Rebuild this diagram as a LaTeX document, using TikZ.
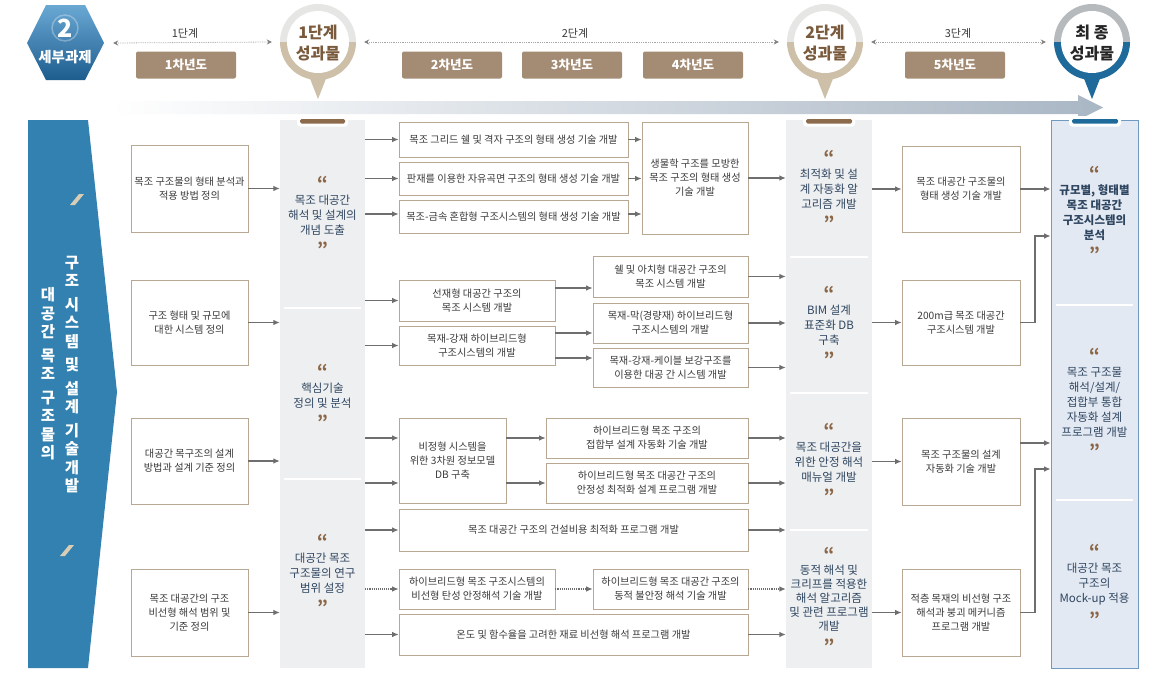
\documentclass[tikz,border=0pt]{standalone}
\usepackage{fontspec}
\setmainfont{Noto Sans CJK KR}
\usetikzlibrary{arrows.meta,calc}
\definecolor{bannerblue}{HTML}{3281B0}
\definecolor{hextop}{HTML}{6AA8D4}
\definecolor{hexbot}{HTML}{1D5D8E}
\definecolor{colgray}{HTML}{EEEFF0}
\definecolor{finfill}{HTML}{E3E9F2}
\definecolor{finborder}{HTML}{6F9AC2}
\definecolor{boxbrd}{HTML}{B8A792}
\definecolor{yearbrown}{HTML}{A48C74}
\definecolor{qbrown}{HTML}{8A6646}
\definecolor{navy}{HTML}{2E4560}
\definecolor{arrgray}{HTML}{6E6E6E}
\definecolor{txtgray}{HTML}{3A3A3A}
\definecolor{ringgray}{HTML}{E6E6E4}
\definecolor{ringtan}{HTML}{CDBFA8}
\definecolor{ringdark}{HTML}{B7BABD}
\definecolor{finblue}{HTML}{1E6A9A}
\definecolor{bandend}{HTML}{A9B6C4}
\definecolor{brownbar}{HTML}{8C6A4C}
\definecolor{circtext}{HTML}{7A5A3C}
\definecolor{slashtan}{HTML}{D9CDB5}
\newcommand{\myoq}{{\color{qbrown}\fontsize{17}{12}\selectfont\bfseries “}}
\newcommand{\mycq}{{\color{qbrown}\fontsize{17}{12}\selectfont\bfseries ”}}
\tikzset{
 wbox/.style={draw=boxbrd, fill=white, line width=0.7pt, align=center, inner sep=0pt, text=txtgray, font=\fontsize{10.2}{14}\selectfont},
 ctext/.style={align=center, text=navy, font=\fontsize{11.5}{15}\selectfont},
 arr/.style={draw=arrgray, line width=1.1pt, -{Latex[length=6.5pt,width=5.5pt]}},
 darr/.style={arr, densely dotted},
 panel/.style={fill=colgray, inner sep=0pt},
 sepline/.style={draw=white, line width=2.2pt},
 year/.style={fill=yearbrown, rounded corners=2pt, text=white, minimum width=100, minimum height=27, inner sep=0pt, font=\fontsize{12.5}{14}\selectfont\bfseries},
 hdr/.style={draw=gray!70, densely dotted, line width=0.8pt, {Stealth[length=5pt,width=5pt,gray]}-{Stealth[length=5pt,width=5pt,gray]}},
 lbl/.style={text=txtgray, font=\fontsize{11}{12}\selectfont},
 vtext/.style={align=center, text=white, inner sep=0pt, font=\fontsize{15.5}{18.5}\selectfont\bfseries},
 ring/.style={minimum size=76, inner sep=0pt},
 ctitle/.style={align=center, font=\fontsize{16}{21}\selectfont\bfseries},
}
\begin{document}
\begin{tikzpicture}[x=1pt,y=-1pt]
\useasboundingbox (0,0) rectangle (1156,672);
\fill[white] (0,0) rectangle (1156,672);

% ===== header band =====
\shade[left color=white, right color=bandend] (110,101) -- (1078,101) -- (1078,95) -- (1103,107.5) -- (1078,120) -- (1078,114) -- (110,114) -- cycle;

% hexagon
\shade[top color=hextop, bottom color=hexbot] (27,43) -- (46,5) -- (85,5) -- (104,43) -- (85,80) -- (46,80) -- cycle;
\node[minimum width=60, minimum height=60, inner sep=0pt] (hex) at (65,43) {};
\draw[white, opacity=0.3, line width=1.5pt] (65,28) circle (13);
\node[text=white, font=\fontsize{25}{25}\selectfont\bfseries] (hexnum) at (65,28) {2};
\node[text=white, font=\fontsize{14.5}{16}\selectfont\bfseries] (hexlbl) at (65,57) {세부과제};

% circle 1
\fill[ringgray] (280,42) arc[start angle=180,end angle=360,radius=38] -- cycle;
\fill[ringtan] (356,42) arc[start angle=0,end angle=180,radius=38] -- cycle;
\fill[ringtan] (309,76) -- (327,76) -- (318,99) -- cycle;
\fill[white] (318,42) circle (31);
\node[ring] (m1) at (318,42) {};
\node[ctitle, text=circtext] (m1t) at (318,43) {1단계\\성과물};

% circle 2
\fill[ringgray] (787,42) arc[start angle=180,end angle=360,radius=38] -- cycle;
\fill[ringtan] (863,42) arc[start angle=0,end angle=180,radius=38] -- cycle;
\fill[ringtan] (816,76) -- (834,76) -- (825,99) -- cycle;
\fill[white] (825,42) circle (31);
\node[ring] (m2) at (825,42) {};
\node[ctitle, text=circtext] (m2t) at (825,43) {2단계\\성과물};

% circle 3
\fill[ringdark] (1054,42) arc[start angle=180,end angle=360,radius=38] -- cycle;
\fill[finblue] (1130,42) arc[start angle=0,end angle=180,radius=38] -- cycle;
\fill[finblue] (1083,76) -- (1101,76) -- (1092,99) -- cycle;
\fill[white] (1092,42) circle (31);
\node[ring] (m3) at (1092,42) {};
\node[ctitle, text=black!85] (m3t) at (1092,43) {최 종\\성과물};

% stage dotted lines
\draw[hdr] ([xshift=18pt]hex.east) -- ([xshift=-8pt]m1.west);
\draw[hdr] ([xshift=8pt]m1.east) -- ([xshift=-8pt]m2.west);
\draw[hdr] ([xshift=8pt]m2.east) -- ([xshift=-8pt]m3.west);
\node[lbl] (s1) at (185,33) {1단계};
\node[lbl] (s2) at (575,33) {2단계};
\node[lbl] (s3) at (958,33) {3단계};

% year boxes
\node[year] (y1) at (186,65) {1차년도};
\node[year] (y2) at (452,65) {2차년도};
\node[year] (y3) at (572,65) {3차년도};
\node[year] (y4) at (693,65) {4차년도};
\node[year] (y5) at (955,65) {5차년도};

% ===== left banner =====
\fill[bannerblue] (28,120) -- (88,120) -- (117,392) -- (88,668) -- (28,668) -- cycle;
\fill[slashtan] (70,205) -- (75,205) -- (84,194) -- (79,194) -- cycle;
\fill[slashtan] (60,556) -- (65,556) -- (74,545) -- (69,545) -- cycle;
\node[vtext] (bt1) at (72,374.5) {구\\조\\[5pt]시\\스\\템\\[5pt]및\\[5pt]설\\계\\[5pt]기\\술\\개\\발};
\node[vtext] (bt2) at (48,374) {대\\공\\간\\[5pt]목\\조\\[5pt]구\\조\\물\\의};

% ===== panels =====
\node[panel, minimum width=85, minimum height=548] (c2) at (322.5,394) {};
\fill[white, rounded corners=3pt] (297,116) rectangle (348,126.5);
\fill[brownbar, rounded corners=1.5pt] (300,119) rectangle (345,123.5);
\draw[sepline] (284,308) -- (361,308);
\draw[sepline] (284,479) -- (361,479);

\node[panel, minimum width=86, minimum height=548] (c4) at (829,394) {};
\fill[white, rounded corners=3pt] (803,116) rectangle (855,126.5);
\fill[brownbar, rounded corners=1.5pt] (806,119) rectangle (852,123.5);
\draw[sepline] (790,257) -- (868,257);
\draw[sepline] (790,393) -- (868,393);
\draw[sepline] (790,530) -- (868,530);

\node[fill=finfill, draw=finborder, line width=0.9pt, minimum width=87, minimum height=548, inner sep=0pt] (c6) at (1094.5,394) {};
\fill[white, rounded corners=3pt] (1069,116) rectangle (1121,126.5);
\fill[finblue, rounded corners=1.5pt] (1072,119) rectangle (1118,123.5);
\draw[sepline] (1056,305) -- (1133,305);
\draw[sepline] (1056,500) -- (1133,500);

% panel texts
\node[ctext] (t21) at (322.5,216) {\myoq\\목조 대공간\\해석 및 설계의\\개념 도출\\[6pt]\mycq};
\node[ctext] (t22) at (322.5,396) {\myoq\\핵심기술\\정의 및 분석\\[6pt]\mycq};
\node[ctext] (t23) at (322.5,574) {\myoq\\대공간 목조\\구조물의 연구\\범위 설정\\[6pt]\mycq};

\node[ctext] (t41) at (829,190) {\myoq\\최적화 및 설\\계 자동화 알\\고리즘 개발\\[6pt]\mycq};
\node[ctext] (t42) at (829,326) {\myoq\\BIM 설계\\표준화 DB\\구축\\[6pt]\mycq};
\node[ctext] (t43) at (829,463) {\myoq\\목조 대공간을\\위한 안정 해석\\매뉴얼 개발\\[6pt]\mycq};
\node[ctext, font=\fontsize{11.5}{14}\selectfont] (t44) at (829,600) {\myoq\\동적 해석 및\\크리프를 적용한\\해석 알고리즘\\및 관련 프로그램\\개발\\[6pt]\mycq};

\node[ctext, font=\fontsize{11.5}{15}\selectfont\bfseries] (t61) at (1094.5,213) {\myoq\\규모별, 형태별\\목조 대공간\\구조시스템의\\분석\\[6pt]\mycq};
\node[ctext] (t62) at (1094.5,403) {\myoq\\목조 구조물\\해석/설계/\\접합부 통합\\자동화 설계\\프로그램 개발\\[6pt]\mycq};
\node[ctext] (t63) at (1094.5,585) {\myoq\\대공간 목조\\구조의\\Mock-up 적용\\[6pt]\mycq};

% ===== column 1 boxes =====
\node[wbox, minimum width=117, minimum height=87] (a1) at (189.5,188.5) {목조 구조물의 형태 분석과\\적용 방법 정의};
\node[wbox, minimum width=117, minimum height=85] (a2) at (189.5,322.5) {구조 형태 및 규모에\\대한 시스템 정의};
\node[wbox, minimum width=117, minimum height=86] (a3) at (189.5,461) {대공간 목구조의 설계\\방법과 설계 기준 정의};
\node[wbox, minimum width=117, minimum height=87] (a4) at (189.5,612.5) {목조 대공간의 구조\\비선형 해석 범위 및\\기준 정의};

% ===== column 3 boxes =====
\node[wbox, minimum width=229, minimum height=35] (b1) at (513.5,139.5) {목조 그리드 쉘 및 격자 구조의 형태 생성 기술 개발};
\node[wbox, minimum width=229, minimum height=33] (b2) at (513.5,178.5) {판재를 이용한 자유곡면 구조의 형태 생성 기술 개발};
\node[wbox, minimum width=229, minimum height=33] (b3) at (513.5,216.5) {목조-금속 혼합형 구조시스템의 형태 생성 기술 개발};
\node[wbox, minimum width=106, minimum height=112] (b4) at (695,178) {생물학 구조를 모방한\\목조 구조의 형태 생성\\기술 개발};
\node[wbox, minimum width=156, minimum height=41] (b5) at (477,300.5) {선재형 대공간 구조의\\목조 시스템 개발};
\node[wbox, minimum width=156, minimum height=39] (b6) at (477,345.5) {목재-강재 하이브리드형\\구조시스템의 개발};
\node[wbox, minimum width=155, minimum height=41] (b7) at (670.5,276.5) {쉘 및 아치형 대공간 구조의\\목조 시스템 개발};
\node[wbox, minimum width=155, minimum height=40] (b8) at (670.5,323) {목재-막(경량재) 하이브리드형\\구조시스템의 개발};
\node[wbox, minimum width=155, minimum height=39] (b9) at (670.5,367.5) {목재-강재-케이블 보강구조를\\이용한 대공 간 시스템 개발};
\node[wbox, minimum width=107, minimum height=85] (b10) at (452.5,460.5) {비정형 시스템을\\위한 3차원 정보모델\\DB 구축};
\node[wbox, minimum width=202, minimum height=40] (b11) at (647,438) {하이브리드형 목조 구조의\\접합부 설계 자동화 기술 개발};
\node[wbox, minimum width=202, minimum height=40] (b12) at (647,483) {하이브리드형 목조 대공간 구조의\\안정성 최적화 설계 프로그램 개발};
\node[wbox, minimum width=349, minimum height=42] (b13) at (573.5,530) {목조 대공간 구조의 건설비용 최적화 프로그램 개발};
\node[wbox, minimum width=156, minimum height=40] (b14) at (477,589) {하이브리드형 목조 구조시스템의\\비선형 탄성 안정해석 기술 개발};
\node[wbox, minimum width=155, minimum height=40] (b15) at (670.5,589) {하이브리드형 목조 대공간 구조의\\동적 불안정 해석 기술 개발};
\node[wbox, minimum width=349, minimum height=41] (b16) at (573.5,634.5) {온도 및 함수율을 고려한 재료 비선형 해석 프로그램 개발};

% ===== column 5 boxes =====
\node[wbox, minimum width=118, minimum height=86] (d1) at (961,189) {목조 대공간 구조물의\\형태 생성 기술 개발};
\node[wbox, minimum width=118, minimum height=85] (d2) at (961,322.5) {200m급 목조 대공간\\구조시스템 개발};
\node[wbox, minimum width=118, minimum height=87] (d3) at (961,461.5) {목조 구조물의 설계\\자동화 기술 개발};
\node[wbox, minimum width=118, minimum height=87] (d4) at (961,612.5) {적층 목재의 비선형 구조\\해석과 붕괴 메커니즘\\프로그램 개발};

% ===== connectors =====
\foreach \n in {a1,a2,a3,a4} \draw[arr] (\n.east) -- (\n.east -| c2.west);

\draw[arr] (c2.east |- b1.west) -- (b1.west);
\draw[arr] (c2.east |- b2.west) -- (b2.west);
\draw[arr] (c2.east |- 0,214) -- (b3.west |- 0,214);
\draw[arr] (c2.east |- b5.west) -- (b5.west);
\draw[arr] (c2.east |- b6.west) -- (b6.west);
\draw[arr] (c2.east |- b11.west) -- (b10.west |- b11.west);
\draw[arr] (c2.east |- b12.west) -- (b10.west |- b12.west);
\draw[arr] (c2.east |- b13.west) -- (b13.west);
\draw[darr] (c2.east |- b14.west) -- (b14.west);
\draw[arr] (c2.east |- b16.west) -- (b16.west);

\draw[arr] (b1.east) -- (b1.east -| b4.west);
\draw[arr] (b2.east) -- (b2.east -| b4.west);
\draw[arr] (b3.east |- 0,214) -- (b4.west |- 0,214);
\draw[arr] (b5.east |- 0,288) -- (b7.west |- 0,288);
\draw[arr] (b6.east |- 0,333) -- (b8.west |- 0,333);
\draw[arr] (b6.east |- 0,358) -- (b9.west |- 0,358);
\draw[arr] (b10.east |- b11.west) -- (b11.west);
\draw[arr] (b10.east |- b12.west) -- (b12.west);
\draw[darr] (b14.east) -- (b15.west);

\draw[arr] (b4.east) -- (b4.east -| c4.west);
\draw[arr] (b7.east) -- (b7.east -| c4.west);
\draw[arr] (b8.east) -- (b8.east -| c4.west);
\draw[arr] (b9.east) -- (b9.east -| c4.west);
\draw[arr] (b11.east) -- (b11.east -| c4.west);
\draw[arr] (b12.east) -- (b12.east -| c4.west);
\draw[arr] (b13.east) -- (b13.east -| c4.west);
\draw[darr] (b15.east) -- (b15.east -| c4.west);
\draw[arr] (b16.east) -- (b16.east -| c4.west);

\draw[arr] (c4.east |- d1.west) -- (d1.west);
\draw[arr] (c4.east |- d2.west) -- (d2.west);
\draw[arr] (c4.east |- d3.west) -- (d3.west);
\draw[arr] (c4.east |- d4.west) -- (d4.west);

\coordinate (j1) at (1035,236);
\coordinate (j2) at (1035,469);
\draw[arr] (d1.east) -- (d1.east -| c6.west);
\draw[arr] (d2.east) -| (j1) -- (c6.west |- j1);
\draw[arr] (d3.east |- 0,443) -- (c6.west |- 0,443);
\draw[arr] (d4.east) -| (j2) -- (c6.west |- j2);
\end{tikzpicture}
\end{document}
